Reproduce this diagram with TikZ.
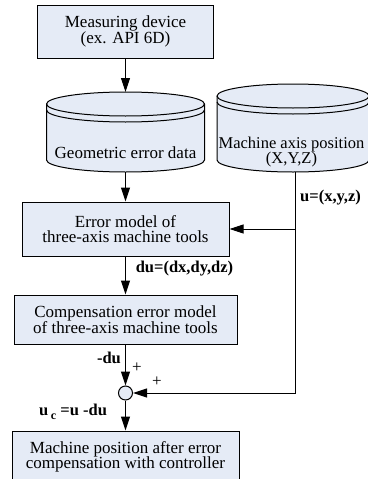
\documentclass[tikz,border=0pt]{standalone}
\usepackage{fontspec}
\setmainfont{Liberation Serif}
\usepackage{xcolor}
\usetikzlibrary{calc, positioning, arrows.meta}

\definecolor{boxfill}{RGB}{229,235,246}

\begin{document}
\begin{tikzpicture}[x=1pt, y=1pt]
    \tikzset{
      block/.style={
        rectangle, draw, line width=1pt, fill=boxfill,
        align=center, inner sep=0pt,
        font=\fontsize{17}{15.5}\selectfont,
      },
      store/.style={
        draw, line width=1pt, fill=boxfill,
      },
      link/.style={
        -{Triangle[length=14pt,width=9pt]}, draw, line width=1pt,
      },
      tag/.style={
        align=center, inner sep=0pt,
        font=\fontsize{17}{15.5}\selectfont,
      },
      note/.style={
        inner sep=0pt, font=\fontsize{16.5}{15}\selectfont\bfseries,
      },
    }
    \useasboundingbox (0,0) rectangle (367,-479);

    \node[block, minimum width=176, minimum height=53] (meas) at (125.5,-31.5)
      {Measuring device\\(ex. API 6D)};

    % geometric error data
    \filldraw[store] (46.5,-104) -- (46.5,-160)
      arc[start angle=180, end angle=360, x radius=79, y radius=12]
      -- (204.5,-104)
      arc[start angle=0, end angle=180, x radius=79, y radius=12] -- cycle;
    \draw[line width=1pt] (46.5,-104) arc[start angle=180, end angle=360, x radius=79, y radius=12];
    \draw[line width=1pt] (46.5,-110) arc[start angle=180, end angle=360, x radius=79, y radius=12];
    \coordinate (geotop) at (125.5,-92);
    \coordinate (geobot) at (125.5,-172);
    \node[tag] (geo) at (125.5,-153) {Geometric error data};

    % machine axis position
    \filldraw[store] (217,-96) -- (217,-160)
      arc[start angle=180, end angle=360, x radius=76, y radius=12]
      -- (369,-96)
      arc[start angle=0, end angle=180, x radius=76, y radius=12] -- cycle;
    \draw[line width=1pt] (217,-96) arc[start angle=180, end angle=360, x radius=76, y radius=12];
    \draw[line width=1pt] (217,-102) arc[start angle=180, end angle=360, x radius=76, y radius=12];
    \coordinate (axisbot) at (295,-172);
    \node[tag, font=\fontsize{16.5}{15.5}\selectfont] (axis) at (291.5,-152)
      {Machine axis position\\(X,Y,Z)};

    \node[block, minimum width=207, minimum height=54] (errmod) at (125.5,-229)
      {Error model of\\three-axis machine tools};
    \node[block, minimum width=223, minimum height=49] (comp) at (125.5,-319.5)
      {Compensation error model\\of three-axis machine tools};
    \node[circle, draw, line width=1pt, fill=boxfill, minimum size=14, inner sep=0pt] (sum) at (125.5,-393) {};
    \node[block, minimum width=227, minimum height=52] (final) at (125.5,-457)
      {Machine position after error\\compensation with controller};

    \draw[link] (meas) -- (geotop);
    \draw[link] (geobot) -- (errmod);
    \draw[link] (errmod) -- (comp);
    \draw[link] (comp) -- (sum);
    \draw[link] (sum) -- (final);

    \coordinate (branch) at (295,-229);
    \draw[link] (axisbot) |- (sum);
    \draw[link] (branch) -- (errmod);

    \node[note, anchor=west] (uvec) at (300,-198) {u=(x,y,z)};
    \node[note] (duvec) at (184.5,-269) {du=(dx,dy,dz)};
    \node[note] (negdu) at (109,-358) {-du};
    \node[tag] (plusa) at (137,-368) {+};
    \node[tag] (plusb) at (157,-382) {+};
    \node[note] (uc) at (73,-412)
      {u\,\raisebox{-0.5ex}{\fontsize{12}{12}\selectfont c} =u -du};
  \end{tikzpicture}
\end{document}
